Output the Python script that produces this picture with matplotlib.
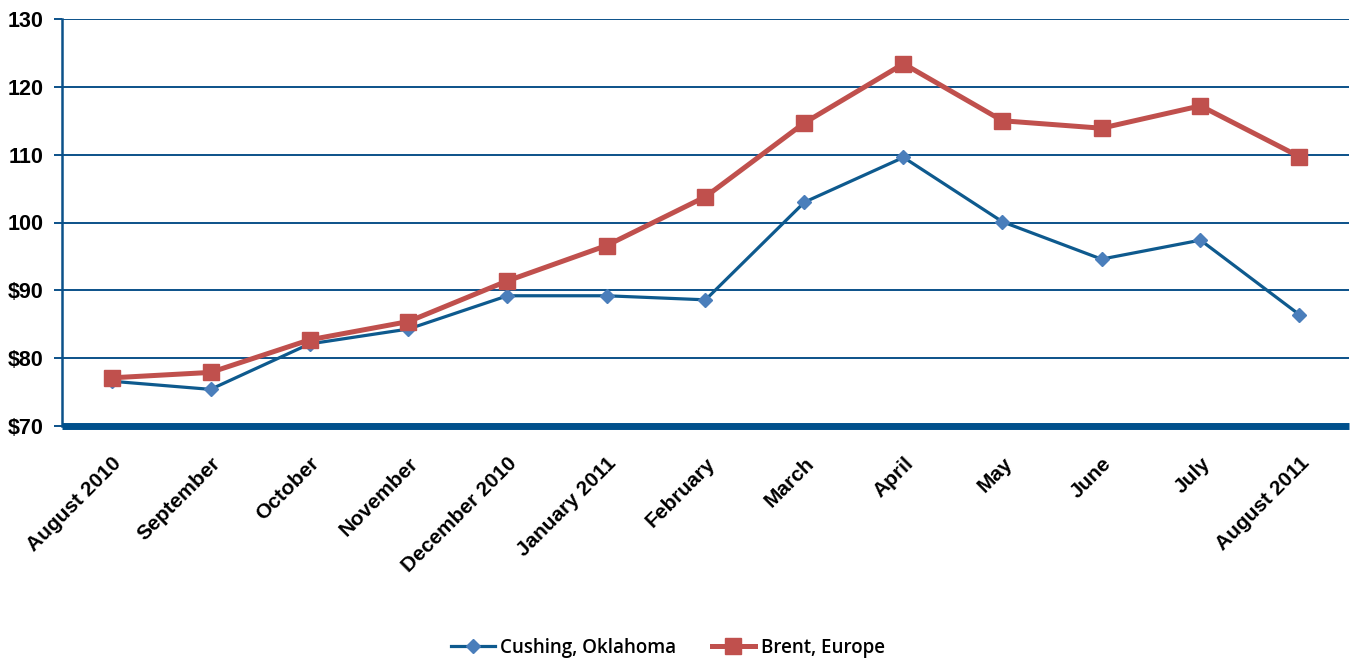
import matplotlib
matplotlib.use("Agg")
import matplotlib.pyplot as plt

months = ["August 2010", "September", "October", "November", "December 2010",
          "January 2011", "February", "March", "April", "May", "June", "July",
          "August 2011"]
cushing = [76.6, 75.4, 82.1, 84.3, 89.2, 89.2, 88.6, 103.0, 109.6, 100.1, 94.6, 97.4, 86.4]
brent = [77.1, 77.9, 82.7, 85.4, 91.4, 96.6, 103.8, 114.7, 123.4, 115.0, 113.9, 117.2, 109.7]
y_ticks = [70, 80, 90, 100, 110, 120, 130]
y_labels = ["$70", "$80", "$90", "100", "110", "120", "130"]

W, H, DPI = 1353, 660, 100
fig = plt.figure(figsize=(W / DPI, H / DPI), dpi=DPI)
ax = fig.add_axes([62 / W, 1 - 426 / H, (1349 - 62) / W, (426 - 19) / H])

axis_blue = "#0B5189"
line_blue = "#0E5A8E"
marker_blue = "#4A7EBB"
red = "#C0504D"

x = list(range(len(months)))
ax.plot(x, cushing, color=line_blue, lw=2.3, marker="D", markersize=7,
        markerfacecolor=marker_blue, markeredgecolor=marker_blue,
        label="Cushing, Oklahoma", zorder=3)
ax.plot(x, brent, color=red, lw=3.6, marker="s", markersize=11.5,
        markerfacecolor=red, markeredgecolor=red,
        label="Brent, Europe", zorder=4)

ax.set_xlim(-0.5, len(months) - 0.5)
ax.set_ylim(70, 130)
ax.set_yticks(y_ticks)
ax.set_yticklabels(y_labels, fontfamily="Liberation Sans", fontweight="bold",
                   fontsize=15.5)
ax.set_xticks(x)
ax.set_xticklabels(months, rotation=45, ha="right", va="top",
                   rotation_mode="anchor", fontfamily="Liberation Sans",
                   fontweight="bold", fontsize=15)

ax.yaxis.grid(True, color=axis_blue, lw=1.4)
ax.set_axisbelow(True)
for s in ["top", "right"]:
    ax.spines[s].set_visible(False)
ax.spines["left"].set_color(axis_blue)
ax.spines["left"].set_linewidth(1.8)
ax.spines["bottom"].set_color("#00508C")
ax.spines["bottom"].set_linewidth(5)
ax.spines["bottom"].set_capstyle("butt")
ax.spines["bottom"].set_zorder(5)

ax.tick_params(axis="y", length=6, width=1.4, color=axis_blue, pad=7)
ax.tick_params(axis="x", length=0, pad=20)

leg = fig.legend(loc="center", bbox_to_anchor=(668 / W, 1 - 648 / H), ncol=2,
                 frameon=False,
                 prop={"family": "Open Sans", "size": 13.5, "weight": "semibold"},
                 handlelength=2.3, columnspacing=1.9, handletextpad=0.3)

fig.savefig("out.png", dpi=DPI)
